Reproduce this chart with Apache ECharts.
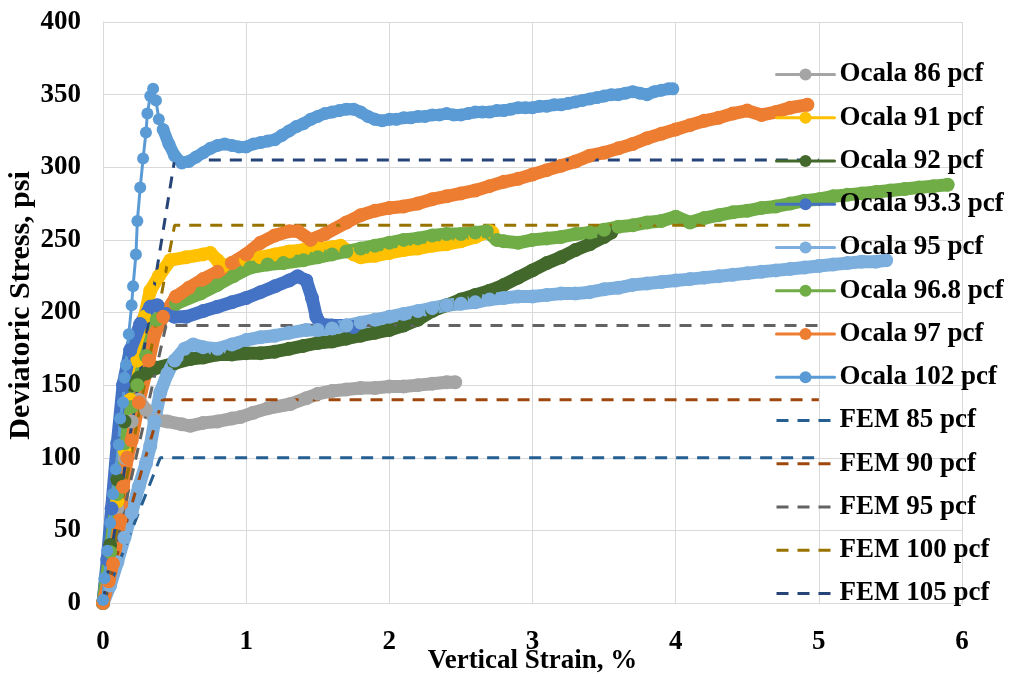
<!DOCTYPE html>
<html>
<head>
<meta charset="utf-8">
<script src="https://cdn.jsdelivr.net/npm/echarts@6/dist/echarts.min.js"></script>
<style>
  html, body { margin: 0; padding: 0; background: #ffffff; }
  #chart { width: 1012px; height: 677px; }
</style>
</head>
<body>
<div id="chart"></div>
<script>
// Axis ticks
const xTicks = [0, 1, 2, 3, 4, 5, 6];
const yTicks = [0, 50, 100, 150, 200, 250, 300, 350, 400];

// Triaxial test curves: [vertical strain %, deviatoric stress psi]
const ocala86 = [[0,0],[0.05,30],[0.1,65],[0.15,100],[0.2,125],[0.25,140],[0.3,133],[0.375,126],[0.45,125],[0.55,123],[0.61,122],[0.7,124],[0.8,125],[0.9,127],[0.96,128],[1.05,131],[1.15,134],[1.31,137],[1.42,141],[1.5,144],[1.6,146],[1.7,147],[1.8,148],[1.9,148],[2.0,149],[2.1,149],[2.2,150],[2.3,151],[2.4,152],[2.46,152]];

const ocala91 = [[0,0],[0.05,30],[0.1,70],[0.15,105],[0.19,140],[0.24,167],[0.29,197],[0.33,215],[0.39,225],[0.47,236],[0.58,238],[0.7,240],[0.75,241],[0.8,236],[0.84,232],[0.9,234],[1.0,236],[1.1,238],[1.2,240],[1.3,242],[1.4,243],[1.5,244],[1.6,245],[1.66,246],[1.75,240],[1.8,238],[1.9,239],[2.0,241],[2.1,243],[2.2,244],[2.3,246],[2.4,247],[2.5,249],[2.6,252],[2.7,256],[2.72,255]];

const ocala92 = [[0,0],[0.05,40],[0.1,85],[0.15,125],[0.2,150],[0.25,155],[0.3,158],[0.375,162],[0.5,165],[0.61,168],[0.7,169],[0.8,171],[0.9,171],[1.0,172],[1.1,172],[1.2,173],[1.3,175],[1.4,177],[1.5,179],[1.6,180],[1.7,182],[1.8,184],[1.9,186],[2.0,188],[2.1,191],[2.2,195],[2.3,201],[2.4,205],[2.5,209],[2.6,212],[2.7,215],[2.8,219],[2.9,224],[3.0,229],[3.1,234],[3.2,238],[3.3,243],[3.4,247],[3.5,252],[3.55,255]];

const ocala93_3 = [[0,0],[0.03,30],[0.06,65],[0.1,110],[0.14,150],[0.19,174],[0.26,192],[0.33,204],[0.38,205],[0.44,199],[0.5,197],[0.58,197],[0.7,201],[0.8,204],[0.9,207],[1.0,210],[1.1,214],[1.2,218],[1.3,222],[1.36,225],[1.42,222],[1.46,210],[1.49,197],[1.52,192],[1.6,191],[1.7,191],[1.75,190]];

const ocala95 = [[0,0],[0.05,12],[0.1,28],[0.15,45],[0.2,62],[0.25,80],[0.3,96],[0.33,108],[0.36,125],[0.4,145],[0.45,158],[0.5,167],[0.57,175],[0.63,178],[0.7,176],[0.8,175],[0.9,178],[1.0,181],[1.1,183],[1.2,184],[1.3,186],[1.42,188],[1.5,188],[1.6,189],[1.7,191],[1.8,193],[1.9,195],[2.0,197],[2.1,199],[2.2,201],[2.3,203],[2.4,205],[2.5,206],[2.6,207],[2.7,209],[2.8,210],[2.9,211],[3.0,211],[3.1,212],[3.2,213],[3.3,213],[3.4,214],[3.5,216],[3.6,217],[3.7,219],[3.8,220],[3.9,221],[4.0,222],[4.1,223],[4.2,224],[4.3,225],[4.4,226],[4.5,227],[4.6,228],[4.7,229],[4.8,230],[4.9,231],[5.0,232],[5.1,233],[5.2,234],[5.3,235],[5.4,235],[5.47,236]];

const ocala96_8 = [[0,0],[0.05,35],[0.1,75],[0.15,110],[0.2,135],[0.24,150],[0.3,170],[0.375,195],[0.51,206],[0.68,213],[0.8,219],[0.91,225],[1.03,231],[1.15,233],[1.26,234],[1.4,236],[1.5,238],[1.6,240],[1.7,242],[1.8,244],[1.9,246],[2.0,248],[2.1,250],[2.2,251],[2.3,253],[2.4,254],[2.5,254],[2.6,255],[2.68,256],[2.75,250],[2.8,249],[2.9,248],[3.0,250],[3.1,251],[3.2,252],[3.3,254],[3.4,255],[3.5,257],[3.6,259],[3.7,260],[3.8,262],[3.9,263],[4.0,266],[4.1,262],[4.2,265],[4.3,267],[4.4,269],[4.5,270],[4.6,272],[4.7,273],[4.8,275],[4.9,277],[5.0,278],[5.1,280],[5.2,281],[5.3,282],[5.4,283],[5.5,284],[5.6,285],[5.7,286],[5.8,287],[5.9,288]];

const ocala97 = [[0,0],[0.04,15],[0.07,27],[0.12,57],[0.14,80],[0.17,100],[0.2,112],[0.25,138],[0.32,167],[0.36,185],[0.42,197],[0.51,211],[0.6,217],[0.7,223],[0.8,228],[0.9,234],[1.0,240],[1.1,248],[1.2,253],[1.3,256],[1.36,256],[1.45,250],[1.55,254],[1.7,262],[1.8,267],[1.9,270],[2.0,272],[2.1,273],[2.2,275],[2.3,278],[2.4,280],[2.5,282],[2.6,284],[2.7,287],[2.8,290],[2.9,292],[3.0,295],[3.1,298],[3.2,301],[3.3,304],[3.4,308],[3.5,310],[3.6,313],[3.7,316],[3.8,320],[3.9,323],[4.0,326],[4.1,329],[4.2,332],[4.3,334],[4.4,337],[4.5,339],[4.6,336],[4.7,338],[4.8,341],[4.92,343]];

// Ocala 102: sparse readings up to the peak, then dense readings along the plateau
const ocala102Rise = [[0,2],[0.01,17],[0.03,36],[0.05,55],[0.07,75],[0.09,92],[0.11,109],[0.12,127],[0.14,138],[0.15,155],[0.16,164],[0.18,185],[0.2,205],[0.21,218],[0.23,240],[0.24,263],[0.26,286],[0.28,306],[0.3,324],[0.31,337],[0.33,349],[0.35,354],[0.37,346],[0.39,333],[0.42,326]];
const ocala102Plateau = [[0.42,326],[0.46,316],[0.5,308],[0.55,303],[0.6,304],[0.65,307],[0.7,310],[0.75,313],[0.8,315],[0.85,316],[0.9,315],[0.95,314],[1.0,314],[1.05,316],[1.1,317],[1.15,318],[1.2,319],[1.25,322],[1.3,325],[1.35,328],[1.4,330],[1.45,333],[1.5,335],[1.55,337],[1.6,338],[1.65,339],[1.7,340],[1.75,340],[1.8,338],[1.85,335],[1.9,333],[1.95,332],[2.0,333],[2.05,333],[2.1,334],[2.15,334],[2.2,335],[2.25,335],[2.3,336],[2.35,336],[2.4,337],[2.45,336],[2.5,336],[2.55,337],[2.6,338],[2.65,338],[2.7,338],[2.75,339],[2.8,339],[2.85,340],[2.9,341],[2.95,341],[3.0,341],[3.05,342],[3.1,342],[3.15,343],[3.2,343],[3.25,344],[3.3,345],[3.35,346],[3.4,347],[3.45,348],[3.5,349],[3.55,350],[3.6,350],[3.65,351],[3.7,352],[3.75,351],[3.8,350],[3.85,352],[3.9,353],[3.95,354],[3.98,354]];

// Bilinear finite-element predictions
const fem85 = [[0,0],[0.4,100],[5,100]];
const fem90 = [[0,0],[0.415,140],[5,140]];
const fem95 = [[0,0],[0.44,191],[5,191]];
const fem100 = [[0,0],[0.5,260],[5,260]];
const fem105 = [[0,0],[0.5,305],[5,305]];

const serif = '"Liberation Serif", "Times New Roman", serif';

function testSeries(name, data, color, width, size) {
  return {
    name: name, type: 'line', data: data,
    symbol: 'circle', symbolSize: size,
    itemStyle: { color: color },
    lineStyle: { color: color, width: width, join: 'round', cap: 'round' },
    emphasis: { disabled: true }
  };
}
function femSeries(name, data, color) {
  return {
    name: name, type: 'line', data: data,
    symbol: 'none',
    itemStyle: { color: color },
    lineStyle: { color: color, width: 3, type: [12, 9] },
    emphasis: { disabled: true }
  };
}

const series = [
  testSeries('Ocala 86 pcf', ocala86, '#a5a5a5', 13, 14),
  testSeries('Ocala 91 pcf', ocala91, '#ffc000', 13, 14),
  testSeries('Ocala 92 pcf', ocala92, '#43682b', 13, 14),
  testSeries('Ocala 93.3 pcf', ocala93_3, '#4472c4', 13, 14),
  testSeries('Ocala 95 pcf', ocala95, '#7cafdd', 13, 14),
  testSeries('Ocala 96.8 pcf', ocala96_8, '#70ad47', 13, 14),
  testSeries('Ocala 97 pcf', ocala97, '#ed7d31', 13, 14),
  testSeries('Ocala 102 pcf', ocala102Rise, '#5b9bd5', 3, 12),
  testSeries('Ocala 102 pcf', ocala102Plateau, '#5b9bd5', 12, 13),
  femSeries('FEM 85 pcf', fem85, '#255e91'),
  femSeries('FEM 90 pcf', fem90, '#9e480e'),
  femSeries('FEM 95 pcf', fem95, '#636363'),
  femSeries('FEM 100 pcf', fem100, '#997300'),
  femSeries('FEM 105 pcf', fem105, '#264478')
];

// Legend entries (one per name): sample curves show line + marker, FEM curves the dash only
const legendNames = [];
series.forEach(s => { if (legendNames.indexOf(s.name) < 0) legendNames.push(s.name); });
const legendData = legendNames.map(n => n.indexOf('FEM') === 0
  ? { name: n, itemStyle: { opacity: 0, color: 'rgba(0,0,0,0)', borderWidth: 0 } }
  : { name: n });

const chart = echarts.init(document.getElementById('chart'), null, { renderer: 'canvas' });
chart.setOption({
  animation: false,
  backgroundColor: '#ffffff',
  grid: { left: 103, right: 50, top: 22, bottom: 74, containLabel: false, outerBoundsMode: 'none' },
  xAxis: {
    type: 'value', min: xTicks[0], max: xTicks[xTicks.length - 1], interval: 1,
    name: 'Vertical Strain, %', nameLocation: 'middle', nameGap: 45, nameMoveOverlap: false,
    nameTextStyle: { fontFamily: serif, fontWeight: 'bold', fontSize: 27, color: '#000' },
    axisLine: { show: true, lineStyle: { color: '#d9d9d9', width: 1 } },
    axisTick: { show: false },
    axisLabel: { fontFamily: serif, fontWeight: 'bold', fontSize: 27, color: '#000', margin: 26 },
    splitLine: { show: true, lineStyle: { color: '#d9d9d9', width: 1 } }
  },
  yAxis: {
    type: 'value', min: yTicks[0], max: yTicks[yTicks.length - 1], interval: 50,
    name: 'Deviatoric Stress, psi', nameLocation: 'middle', nameGap: 67, nameMoveOverlap: false,
    nameTextStyle: { fontFamily: serif, fontWeight: 'bold', fontSize: 30, color: '#000', padding: [0, 0, 0, 14] },
    axisLine: { show: true, lineStyle: { color: '#d9d9d9', width: 1 } },
    axisTick: { show: false },
    axisLabel: { fontFamily: serif, fontWeight: 'bold', fontSize: 27, color: '#000', margin: 22 },
    splitLine: { show: true, lineStyle: { color: '#d9d9d9', width: 1 } }
  },
  legend: {
    orient: 'vertical', left: 770, top: 56,
    itemWidth: 58, itemHeight: 15, itemGap: 16.25,
    lineStyle: { width: 3 },
    textStyle: { fontFamily: serif, fontWeight: 'bold', fontSize: 27, color: '#000', lineHeight: 25 },
    data: legendData
  },
  series: series
});
</script>
</body>
</html>
